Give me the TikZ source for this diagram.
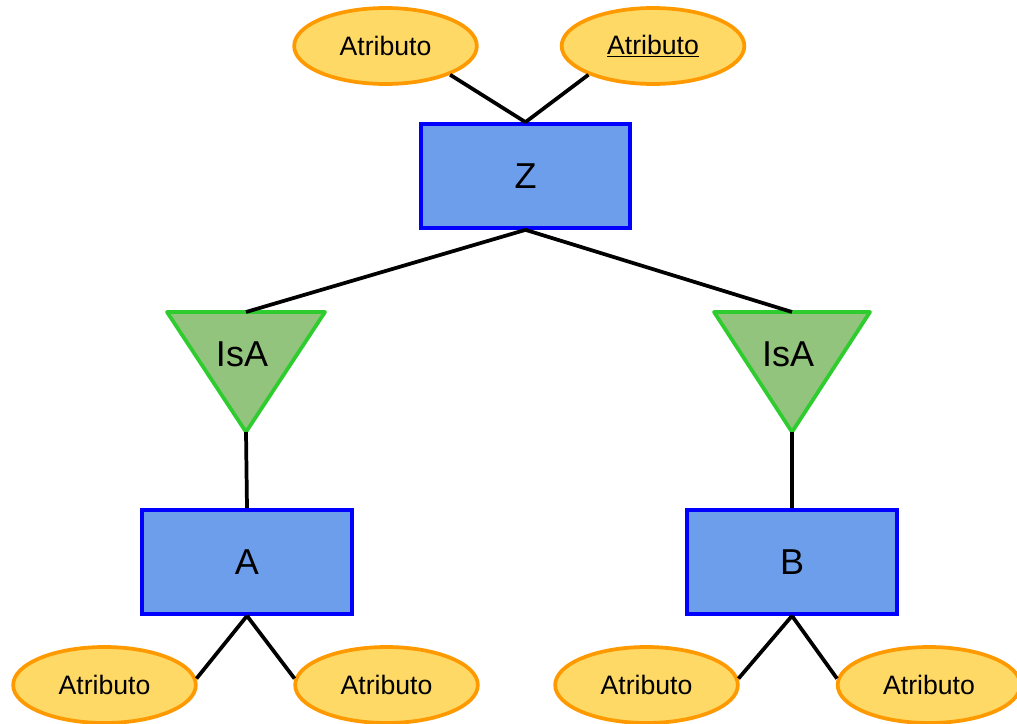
\documentclass[tikz,border=0pt]{standalone}
\usepackage{fontspec}
\setmainfont{Liberation Sans}
\usetikzlibrary{shapes.geometric}
\definecolor{attrfill}{HTML}{FFD966}
\definecolor{attrline}{HTML}{FF9900}
\definecolor{entfill}{HTML}{6D9EEB}
\definecolor{entline}{HTML}{0000FF}
\definecolor{isafill}{HTML}{93C47D}
\definecolor{isaline}{HTML}{2ECC2E}
\begin{document}
\begin{tikzpicture}[x=0.75pt,y=-0.75pt,
  attr/.style={ellipse,draw=attrline,fill=attrfill,line width=2.8pt,minimum width=137pt,minimum height=57pt,inner sep=0pt,font=\fontsize{20}{23}\selectfont},
  ent/.style={rectangle,draw=entline,fill=entfill,line width=2.8pt,minimum width=157pt,minimum height=78pt,inner sep=0pt,font=\fontsize{27}{30}\selectfont},
  isa/.style={draw=isaline,fill=isafill,line width=2.8pt,line join=round},
  isatext/.style={font=\fontsize{27}{30}\selectfont,inner sep=0pt},
  conn/.style={line width=2.8pt}]
\useasboundingbox (0,0) rectangle (1017,724);
% entities
\node[ent] (z) at (525.5,176) {Z};
\node[ent] (a) at (247,562) {A};
\node[ent] (b) at (792,562) {B};
% attributes
\node[attr] (t1) at (385.5,46) {Atributo};
\node[attr] (t2) at (653,46) {\underline{Atributo}};
\node[attr] (a1) at (104.5,685) {Atributo};
\node[attr] (a2) at (386.5,685) {Atributo};
\node[attr] (b1) at (646.5,685) {Atributo};
\node[attr] (b2) at (929,685) {Atributo};
% isa triangles
\coordinate (lt) at (246,312);
\coordinate (lv) at (246,432);
\coordinate (rt) at (792,312);
\coordinate (rv) at (792,432);
\draw[isa] (167,312) -- (325,312) -- (lv) -- cycle;
\draw[isa] (714,312) -- (870,312) -- (rv) -- cycle;
\node[isatext] (li) at (242,354) {IsA};
\node[isatext] (ri) at (788,354) {IsA};
% connectors
\draw[conn] (t1.-24) -- (z.north);
\draw[conn] (t2.-156) -- (z.north);
\draw[conn] (z.south) -- (lt);
\draw[conn] (z.south) -- (rt);
\draw[conn] (lv) -- (a.north);
\draw[conn] (rv) -- (b.north);
\draw[conn] (a.south) -- (a1.4);
\draw[conn] (a.south) -- (a2.176);
\draw[conn] (b.south) -- (b1.4);
\draw[conn] (b.south) -- (b2.176);
\end{tikzpicture}
\end{document}
